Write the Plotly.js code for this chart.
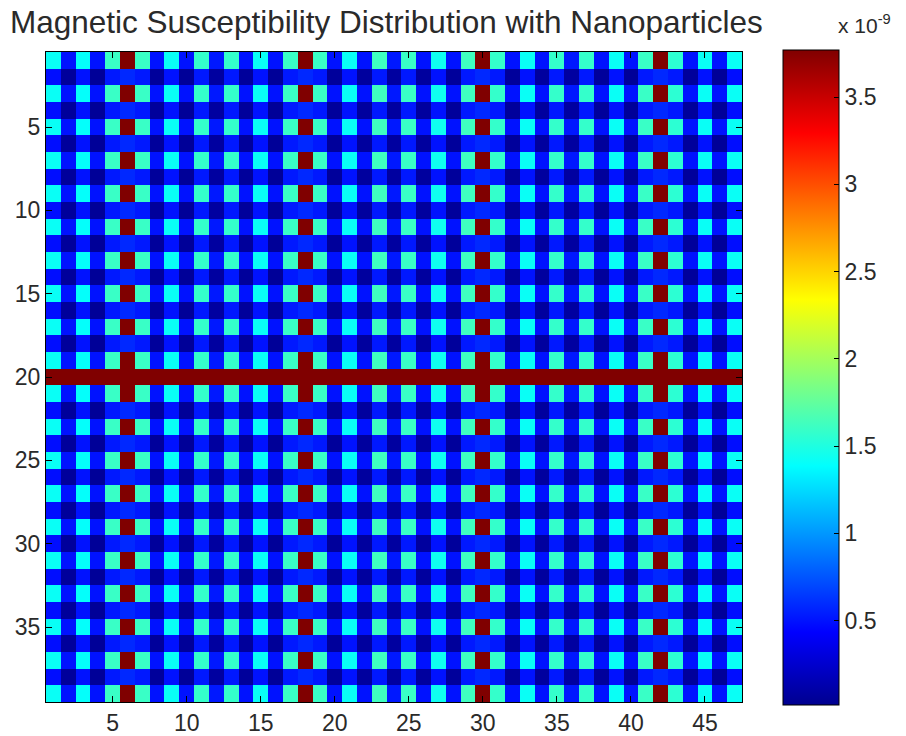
<!DOCTYPE html>
<html>
<head>
<meta charset="utf-8">
<script src="https://cdn.plot.ly/plotly-3.0.1.min.js"></script>
<style>html,body{margin:0;padding:0;background:#fff;}#chart{width:906px;height:736px;}</style>
</head>
<body>
<div id="chart"></div>
<script>
// Values in units of 1e-9
const columns = Array.from({length: 47}, (_, i) => i + 1);
const rows = Array.from({length: 39}, (_, i) => i + 1);

// Odd rows (A): cyan / blue alternation, red nanoparticle columns
const rowTypeA = [1.42,0.50,1.40,0.50,1.60,3.77,1.60,0.50,1.42,0.50,1.58,0.52,1.58,0.50,1.42,0.50,1.60,3.77,1.60,0.50,1.42,0.50,1.62,0.52,1.60,0.50,1.44,0.50,1.62,3.77,1.58,0.50,1.42,0.50,1.58,0.52,1.58,0.50,1.42,0.50,1.60,3.77,1.55,0.50,1.42,0.50,1.42];
// Even rows (B): blue / dark navy alternation
const rowTypeB = [0.48,0.06,0.50,0.05,0.52,0.58,0.52,0.06,0.50,0.05,0.52,0.08,0.52,0.06,0.50,0.05,0.52,0.58,0.52,0.06,0.50,0.07,0.52,0.08,0.52,0.07,0.50,0.06,0.52,0.58,0.52,0.06,0.50,0.07,0.52,0.08,0.52,0.06,0.50,0.05,0.52,0.58,0.52,0.06,0.50,0.05,0.48];
// Row 20 (C): nanoparticle row
const rowTypeC = [3.77,3.77,3.77,3.77,3.77,3.77,3.77,3.77,3.77,3.77,3.77,3.77,3.77,3.77,3.77,3.77,3.77,3.77,3.77,3.77,3.77,3.77,3.77,3.77,3.77,3.77,3.77,3.77,3.77,3.77,3.77,3.77,3.77,3.77,3.77,3.77,3.77,3.77,3.77,3.77,3.77,3.77,3.77,3.77,3.77,3.77,3.77];

const rowPattern = ['A','B','A','B','A','B','A','B','A','B','A','B','A','B','A','B','A','B','A','C','A','B','A','B','A','B','A','B','A','B','A','B','A','B','A','B','A','B','A'];

const xTicks = [5,10,15,20,25,30,35,40,45];
const yTicks = [5,10,15,20,25,30,35];
const cbTicks = [0.5,1,1.5,2,2.5,3,3.5];
const cbTickLabels = ['0.5','1','1.5','2','2.5','3','3.5'];

const lookup = {A: rowTypeA, B: rowTypeB, C: rowTypeC};
const z = rowPattern.map(k => lookup[k].slice());

const jet = [
  [0, 'rgb(0,0,143)'],
  [0.111, 'rgb(0,0,255)'],
  [0.365, 'rgb(0,255,255)'],
  [0.619, 'rgb(255,255,0)'],
  [0.873, 'rgb(255,0,0)'],
  [1, 'rgb(128,0,0)']
];

const fontFam = 'Liberation Sans, Arial, sans-serif';
const textCol = '#2a2a2a';

const trace = {
  type: 'heatmap',
  x: columns, y: rows, z: z,
  colorscale: jet,
  zmin: 0.015, zmax: 3.77,
  xgap: 0, ygap: 0,
  colorbar: {
    x: 1.0589, xanchor: 'left', xpad: 0,
    y: 1.003, yanchor: 'top', ypad: 0,
    lenmode: 'pixels', len: 655,
    thickness: 56, thicknessmode: 'pixels',
    outlinecolor: '#000', outlinewidth: 1,
    tickvals: cbTicks, ticktext: cbTickLabels,
    ticks: 'inside', ticklen: 5, tickcolor: '#000',
    tickfont: {family: fontFam, size: 23, color: textCol}
  }
};

const layout = {
  width: 906, height: 736,
  margin: {l: 46, r: 164, t: 52, b: 34},
  paper_bgcolor: '#fff', plot_bgcolor: '#fff',
  title: {text: 'Magnetic Susceptibility Distribution with Nanoparticles', x: 0.011, xanchor: 'left', y: 0.97, yanchor: 'middle',
          font: {family: fontFam, size: 31.5, color: textCol}},
  xaxis: {range: [0.5, 47.5], tickvals: xTicks, ticks: 'inside', ticklen: 6, tickcolor: '#000',
          showline: true, linecolor: '#000', linewidth: 1, mirror: 'ticks', showgrid: false, zeroline: false,
          tickfont: {family: fontFam, size: 23, color: textCol}},
  yaxis: {range: [39.5, 0.5], tickvals: yTicks, ticks: 'inside', ticklen: 6, tickcolor: '#000',
          showline: true, linecolor: '#000', linewidth: 1, mirror: 'ticks', showgrid: false, zeroline: false,
          tickfont: {family: fontFam, size: 23, color: textCol}},
  annotations: [{text: 'x 10<sup>-9</sup>', xref: 'paper', yref: 'paper', x: 1.135, y: 1.02, xanchor: 'left', yanchor: 'bottom',
                 showarrow: false, font: {family: fontFam, size: 21, color: textCol}}]
};

Plotly.newPlot('chart', [trace], layout, {displayModeBar: false, staticPlot: true});
</script>
</body>
</html>
